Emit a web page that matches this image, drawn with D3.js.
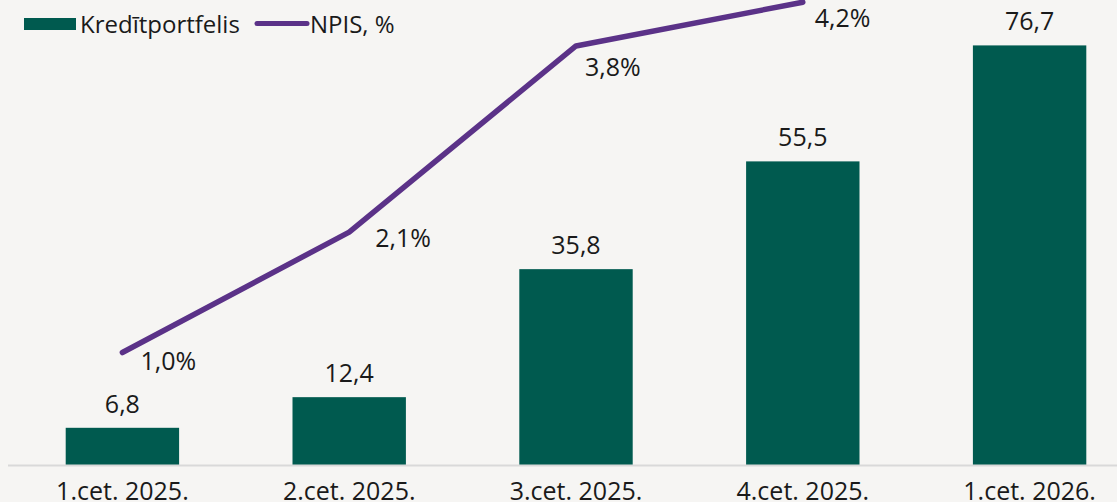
<!DOCTYPE html>
<html>
<head>
<meta charset="utf-8">
<script src="https://cdn.jsdelivr.net/npm/d3@7"></script>
<style>
  html, body { margin: 0; padding: 0; background: #f6f5f3; overflow: hidden; }
  svg { display: block; font-family: "Open Sans", sans-serif; }
</style>
</head>
<body>
<svg id="chart"></svg>
<script>
// Categories and series
var categories = ["1.cet. 2025.", "2.cet. 2025.", "3.cet. 2025.", "4.cet. 2025.", "1.cet. 2026."];
var portfolio = [6.8, 12.4, 35.8, 55.5, 76.7];
var npis = [1.0, 2.1, 3.8, 4.2];

// where each NPIS label sits relative to its point
var npisLabelOffsets = [[18, 17], [26, 15], [9, 30], [12, 25]];

var width = 1117,
    height = 502;

var green = "#005a4f",
    purple = "#5b3288";

var svg = d3.select("#chart")
  .attr("width", width)
  .attr("height", height);

// band scale runs past the right edge, the picture is cropped there
var x = d3.scaleBand()
  .domain(categories)
  .range([9, 1143])
  .paddingInner(0.5)
  .paddingOuter(0.25);

var y = d3.scaleLinear()
  .domain([0, 85])
  .range([465, 0]);

// secondary axis for the line
var y2 = d3.scaleLinear()
  .domain([0, 4.22])
  .range([462, 0]);

var fmt = function(v, d) { return v.toFixed(d).replace(".", ","); };

// bars
svg.selectAll(".bar")
  .data(portfolio)
  .enter().append("rect")
  .attr("class", "bar")
  .attr("x", function(d, i) { return x(categories[i]); })
  .attr("y", function(d) { return y(d); })
  .attr("width", x.bandwidth())
  .attr("height", function(d) { return y(0) - y(d); })
  .attr("fill", green);

// baseline
svg.append("line")
  .attr("x1", 8).attr("x2", width)
  .attr("y1", y(0) + 0.5).attr("y2", y(0) + 0.5)
  .attr("stroke", "#d9d9d9")
  .attr("stroke-width", 2);

// bar labels
svg.selectAll(".barlabel")
  .data(portfolio)
  .enter().append("text")
  .attr("class", "barlabel")
  .attr("x", function(d, i) { return x(categories[i]) + x.bandwidth() / 2; })
  .attr("y", function(d) { return y(d) - 15; })
  .attr("text-anchor", "middle")
  .attr("font-size", 25)
  .attr("fill", "#1a1a1a")
  .text(function(d) { return fmt(d, 1); });

// x labels
var xAxis = svg.append("g")
  .attr("transform", "translate(0," + y(0) + ")")
  .call(d3.axisBottom(x).tickSize(0).tickPadding(17));
xAxis.select(".domain").remove();
xAxis.selectAll("text")
  .attr("font-size", 25)
  .attr("font-family", "Open Sans, sans-serif")
  .attr("fill", "#1a1a1a");

// NPIS line
var line = d3.line()
  .x(function(d, i) { return x(categories[i]) + x.bandwidth() / 2; })
  .y(function(d) { return y2(d); });

svg.append("path")
  .datum(npis)
  .attr("d", line)
  .attr("fill", "none")
  .attr("stroke", purple)
  .attr("stroke-width", 5.5)
  .attr("stroke-linecap", "round")
  .attr("stroke-linejoin", "round");

svg.selectAll(".npislabel")
  .data(npis)
  .enter().append("text")
  .attr("class", "npislabel")
  .attr("x", function(d, i) { return x(categories[i]) + x.bandwidth() / 2 + npisLabelOffsets[i][0]; })
  .attr("y", function(d, i) { return y2(d) + npisLabelOffsets[i][1]; })
  .attr("font-size", 25)
  .attr("fill", "#1a1a1a")
  .text(function(d) { return fmt(d, 1) + "%"; });

// legend
var legend = svg.append("g");
legend.append("rect")
  .attr("x", 24).attr("y", 18)
  .attr("width", 52).attr("height", 12)
  .attr("fill", green);
legend.append("text")
  .attr("x", 80).attr("y", 33)
  .attr("font-size", 24)
  .attr("fill", "#1a1a1a")
  .text("Kredītportfelis");
legend.append("line")
  .attr("x1", 257).attr("x2", 307)
  .attr("y1", 23.5).attr("y2", 23.5)
  .attr("stroke", purple)
  .attr("stroke-width", 5)
  .attr("stroke-linecap", "round");
legend.append("text")
  .attr("x", 310).attr("y", 33)
  .attr("font-size", 24)
  .attr("fill", "#1a1a1a")
  .text("NPIS, %");
</script>
</body>
</html>
